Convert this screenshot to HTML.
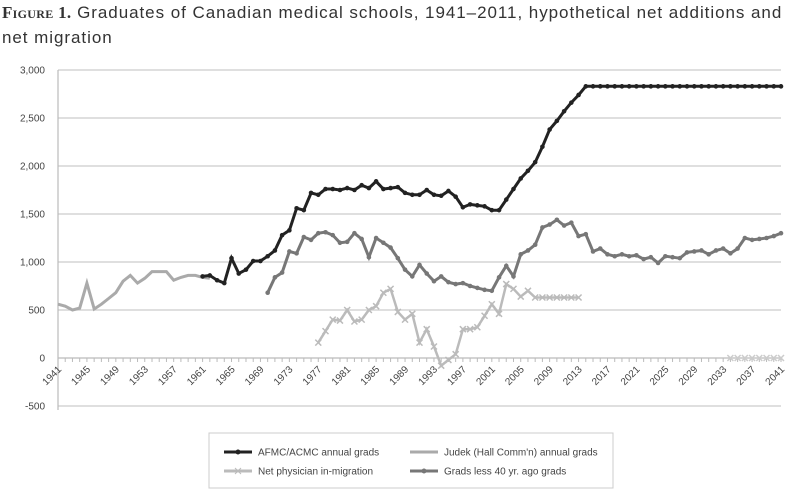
<!DOCTYPE html>
<html><head><meta charset="utf-8"><style>
body{margin:0;background:#fff;width:800px;height:493px;overflow:hidden;font-family:"Liberation Sans",sans-serif}
.t{position:absolute;left:2px;top:0;font-size:17px;color:#333;line-height:25px;width:798px;white-space:nowrap;letter-spacing:0.95px}
</style></head><body>
<div class="t"><b style="font-family:'Liberation Serif',serif;font-variant:small-caps;font-size:17px;letter-spacing:0.3px">Figure 1.</b> Graduates of Canadian medical schools, 1941–2011, hypothetical net additions and<br>net migration</div>
<svg id="s" width="800" height="493" style="position:absolute;left:0;top:0"></svg>
<script>
var s=document.getElementById('s'),h='';
function X(y){return 58+(y-1941)*7.23}
function Y(v){return 358-v*0.096}
for(var v=-500;v<=3000;v+=500){var y=Y(v);if(v!=0)h+='<line x1="58" x2="781" y1="'+y+'" y2="'+y+'" stroke="#ccc" stroke-width="1.2"/>';
h+='<text x="45" y="'+(y+3.5)+'" font-size="10" text-anchor="end" fill="#444">'+(v==0?'0':v.toLocaleString('en-US'))+'</text>';}
h+='<line x1="58" x2="58" y1="70" y2="410" stroke="#bbb" stroke-width="1.2"/>';
h+='<line x1="58" x2="781" y1="358" y2="358" stroke="#bbb" stroke-width="1.2"/>';
for(var yr=1941;yr<=2041;yr++){var x=X(yr);h+='<line x1="'+x+'" x2="'+x+'" y1="358" y2="362" stroke="#bbb"/>';
if((yr-1941)%4==0)h+='<text transform="translate('+(x+4)+',370) rotate(-45)" font-size="10" text-anchor="end" fill="#444">'+yr+'</text>';}
function ser(start,vals,col,w,mk){var p=[];for(var i=0;i<vals.length;i++)p.push(X(start+i).toFixed(1)+','+Y(vals[i]).toFixed(1));
h+='<polyline points="'+p.join(' ')+'" fill="none" stroke="'+col+'" stroke-width="'+w+'"/>';
if(mk)for(var i=0;i<vals.length;i++){var x=X(start+i),y=Y(vals[i]);
if(mk=='x')h+='<path d="M'+(x-3)+' '+(y-3)+'L'+(x+3)+' '+(y+3)+'M'+(x-3)+' '+(y+3)+'L'+(x+3)+' '+(y-3)+'" stroke="'+col+'" stroke-width="1.5"/>';
else h+='<circle cx="'+x+'" cy="'+y+'" r="2.3" fill="'+col+'"/>';}}
var jud=[560,540,500,520,780,510,560,620,680,800,860,780,830,900,900,900,810,840,860,860,840,830];
var af=[850,860,810,780,1040,880,920,1010,1010,1060,1120,1280,1330,1560,1540,1720,1700,1760,1760,1750,1770,1750,1800,1770,1840,1760,1770,1780,1720,1700,1700,1750,1700,1690,1740,1680,1570,1600,1590,1580,1540,1540,1650,1760,1870,1950,2040,2200,2380,2470,2570,2660,2740];
while(af.length<81)af.push(2830);
var g40=[680,840,890,1110,1090,1260,1230,1300,1310,1280,1200,1210,1300,1240,1050,1250,1200,1150,1040,920,850,970,880,800,850,790,770,780,750,730,710,700,840,960,850,1080,1120,1180,1360,1390,1440,1380,1410,1270,1290,1110,1140,1080,1060,1080,1060,1070,1030,1050,990,1060,1050,1040,1100,1110,1120,1080,1120,1140,1090,1140,1250,1230,1240,1250,1270,1300];
var nm=[160,280,400,390,500,380,400,500,540,680,720,480,400,460,160,300,120,-80,-20,40,300,300,320,440,560,460,770,720,640,700,630,630,630,630,630,630,630];
ser(1941,jud,'#aaa',3);
ser(1977,nm,'#bbb',2.5,'x');
ser(2034,[0,0,0,0,0,0,0,0],'#ccc',1.5,'x');
ser(1970,g40,'#777',3,'o');
ser(1961,af,'#222',3,'o');
h+='<rect x="209" y="433" width="404" height="55" fill="#fff" stroke="#ccc"/>';
function lg(x,y,col,t,mk){h+='<line x1="'+x+'" x2="'+(x+28)+'" y1="'+y+'" y2="'+y+'" stroke="'+col+'" stroke-width="3"/>';
if(mk=='o')h+='<circle cx="'+(x+14)+'" cy="'+y+'" r="2.5" fill="'+col+'"/>';
if(mk=='x')h+='<path d="M'+(x+11)+' '+(y-3)+'L'+(x+17)+' '+(y+3)+'M'+(x+11)+' '+(y+3)+'L'+(x+17)+' '+(y-3)+'" stroke="'+col+'"/>';
h+='<text x="'+(x+34)+'" y="'+(y+3.5)+'" font-size="10" fill="#444">'+t+'</text>';}
lg(224,452,'#222','AFMC/ACMC annual grads','o');
lg(410,452,'#aaa','Judek (Hall Comm\'n) annual grads');
lg(224,471,'#bbb','Net physician in-migration','x');
lg(410,471,'#777','Grads less 40 yr. ago grads','o');
s.innerHTML=h;
</script>
</body></html>
